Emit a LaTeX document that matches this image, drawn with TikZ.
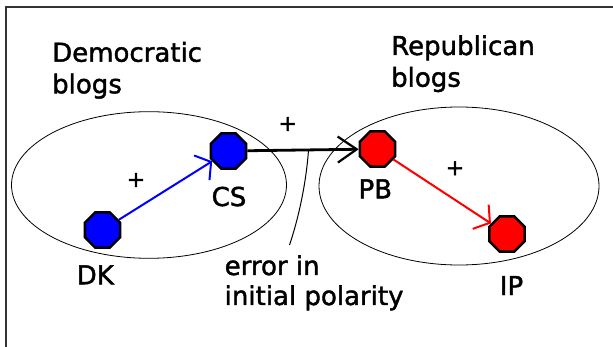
\documentclass[tikz,border=0pt]{standalone}
\usepackage{fontspec}
\setmainfont{DejaVu Sans}[FakeBold=1.6]
\usetikzlibrary{shapes.geometric,arrows.meta,calc}
\definecolor{frame}{RGB}{50,50,50}
\definecolor{dblue}{RGB}{0,0,255}
\definecolor{rred}{RGB}{255,0,0}
\tikzset{
  blog/.style={regular polygon, regular polygon sides=8, minimum size=38pt, inner sep=0pt, draw=black, line width=2.5pt},
  dem/.style={blog, fill=dblue},
  rep/.style={blog, fill=rred},
  txt/.style={inner sep=0pt, font=\fontsize{26}{30}\selectfont},
  lbl/.style={txt, anchor=base west},
  nlbl/.style={txt, anchor=base},
  plus/.style={inner sep=0pt, font=\fontsize{22}{26}\selectfont},
  group/.style={draw=black, line width=0.8pt},
  link/.style={line width=2pt, -{Straight Barb[length=11pt, width=29pt, line width=2pt]}},
  mainlink/.style={line width=2.8pt, -{Straight Barb[length=19pt, width=26pt, line width=2.2pt]}},
  pointer/.style={line width=1pt}
}
\begin{document}
\begin{tikzpicture}[x=1pt, y=-1pt]
\useasboundingbox (0,0) rectangle (613,347);
\fill[white] (0,0) rectangle (613,347);
\begin{scope}
\clip (0,0) rectangle (613,347);
\draw[frame, line width=2pt] (5.7,6.7) rectangle (700,420);
\end{scope}
% groups
\draw[group] (149,185) ellipse [x radius=137.5, y radius=73.3];
\draw[group] (459,186) ellipse [x radius=140, y radius=79];
% group labels
\node[lbl] (dem1) at (52,61.7) {Democratic};
\node[lbl] (dem2) at (52,93.3) {blogs};
\node[lbl] (rep1) at (391,55) {Republican};
\node[lbl] (rep2) at (391,86.7) {blogs};
% blogs
\node[dem] (DK) at (102.5,230) {};
\node[dem] (CS) at (228.5,151) {};
\node[rep] (PB) at (377.5,149) {};
\node[rep] (IP) at (507,234) {};
% blog labels
\node[nlbl] (DKl) at (95.3,284.3) {DK};
\node[nlbl] (CSl) at (229,206) {CS};
\node[nlbl] (PBl) at (375.3,198.3) {PB};
\node[nlbl] (IPl) at (511.5,295) {IP};
% links
\draw[link, dblue] (DK) -- (CS);
\draw[link, rred] (PB) -- (IP);
\draw[mainlink, black] (CS) -- (PB);
% signs
\node[plus] (p1) at (136,180) {+};
\node[plus] (p2) at (287.7,124) {+};
\node[plus] (p3) at (455,168.3) {+};
% error annotation
\coordinate (errtop) at ($(CS)!0.537!(PB)$);
\coordinate (errbot) at (289.5,245);
\draw[pointer] (errtop) .. controls (306,185) and (298,220) .. (errbot);
\node[lbl] (err1) at (224.5,275) {error in};
\node[lbl] (err2) at (224.5,305) {initial polarity};
\end{tikzpicture}
\end{document}
